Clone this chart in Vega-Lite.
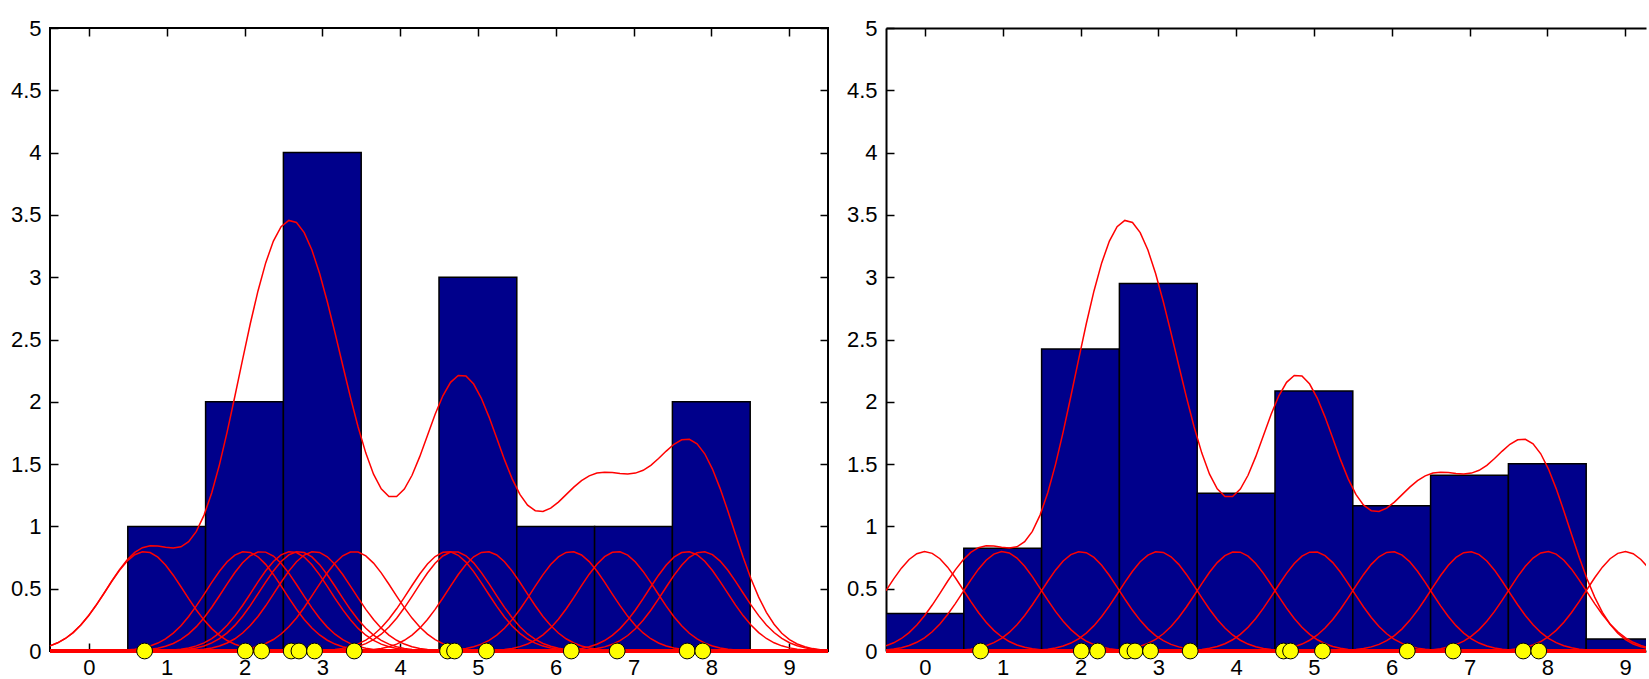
{
  "$schema": "https://vega.github.io/schema/vega-lite/v6.json",
  "padding": {"left": 9, "top": 16, "right": 0, "bottom": 0},
  "background": "white",
  "spacing": 58,
  "bounds": "flush",
  "config": {
    "view": {"stroke": "black", "strokeWidth": 2},
    "axis": {
      "grid": false,
      "domain": false,
      "labelFont": "Liberation Sans",
      "labelFontSize": 22,
      "labelColor": "black",
      "tickColor": "black",
      "tickWidth": 1.5,
      "tickSize": -8,
      "labelFlush": false,
      "labelOverlap": false,
      "title": null
    }
  },
  "datasets": {
    "pts": [
      {"id": 1, "x": 0.716},
      {"id": 2, "x": 2.01},
      {"id": 3, "x": 2.22},
      {"id": 4, "x": 2.6},
      {"id": 5, "x": 2.7},
      {"id": 6, "x": 2.9},
      {"id": 7, "x": 3.41},
      {"id": 8, "x": 4.61},
      {"id": 9, "x": 4.7},
      {"id": 10, "x": 5.11},
      {"id": 11, "x": 6.2},
      {"id": 12, "x": 6.79},
      {"id": 13, "x": 7.69},
      {"id": 14, "x": 7.89}
    ],
    "bins1": [
      {"lo": 0.5, "hi": 1.5, "h": 1},
      {"lo": 1.5, "hi": 2.5, "h": 2},
      {"lo": 2.5, "hi": 3.5, "h": 4},
      {"lo": 3.5, "hi": 4.5, "h": 0},
      {"lo": 4.5, "hi": 5.5, "h": 3},
      {"lo": 5.5, "hi": 6.5, "h": 1},
      {"lo": 6.5, "hi": 7.5, "h": 1},
      {"lo": 7.5, "hi": 8.5, "h": 2}
    ],
    "bins2": [
      {"lo": -0.5, "hi": 0.5, "h": 0.3},
      {"lo": 0.5, "hi": 1.5, "h": 0.824},
      {"lo": 1.5, "hi": 2.5, "h": 2.424},
      {"lo": 2.5, "hi": 3.5, "h": 2.95},
      {"lo": 3.5, "hi": 4.5, "h": 1.266},
      {"lo": 4.5, "hi": 5.5, "h": 2.087},
      {"lo": 5.5, "hi": 6.5, "h": 1.166},
      {"lo": 6.5, "hi": 7.5, "h": 1.41},
      {"lo": 7.5, "hi": 8.5, "h": 1.503},
      {"lo": 8.5, "hi": 9.5, "h": 0.096}
    ],
    "centers": [
      {"c": 0}, {"c": 1}, {"c": 2}, {"c": 3}, {"c": 4},
      {"c": 5}, {"c": 6}, {"c": 7}, {"c": 8}, {"c": 9}
    ]
  },
  "hconcat": [
    {
      "width": 778,
      "height": 623,
      "resolve": {"axis": {"x": "independent", "y": "independent"}},
      "layer": [
        {
          "data": {"name": "bins1"},
          "mark": {"type": "rect", "fill": "#00008B", "stroke": "black", "strokeWidth": 1.5},
          "encoding": {
            "x": {"field": "lo", "type": "quantitative", "scale": {"domain": [-0.5, 9.5], "nice": false, "zero": false},
                  "axis": {"orient": "bottom", "values": [0,1,2,3,4,5,6,7,8,9], "format": "d", "labelPadding": 14}},
            "x2": {"field": "hi"},
            "y": {"field": "h", "type": "quantitative", "scale": {"domain": [0, 5], "nice": false},
                  "axis": {"orient": "left", "values": [0,0.5,1,1.5,2,2.5,3,3.5,4,4.5,5], "format": "~g", "labelPadding": 17}},
            "y2": {"datum": 0}
          }
        },
        {
          "data": {"name": "pts"},
          "transform": [{"density": "x", "groupby": ["id"], "bandwidth": 0.5, "extent": [-0.5, 9.5], "counts": true, "steps": 101, "as": ["v", "d"]}],
          "mark": {"type": "line", "color": "#FF0000", "strokeWidth": 1.5},
          "encoding": {
            "x": {"field": "v", "type": "quantitative", "scale": {"domain": [-0.5, 9.5], "nice": false, "zero": false},
                  "axis": {"orient": "top", "values": [0,1,2,3,4,5,6,7,8,9], "labels": false}},
            "y": {"field": "d", "type": "quantitative", "scale": {"domain": [0, 5], "nice": false},
                  "axis": {"orient": "right", "values": [0,0.5,1,1.5,2,2.5,3,3.5,4,4.5,5], "labels": false}},
            "detail": {"field": "id", "type": "nominal"}
          }
        },
        {
          "data": {"name": "pts"},
          "transform": [{"density": "x", "bandwidth": 0.5, "extent": [-0.5, 9.5], "counts": true, "steps": 101, "as": ["v", "d"]}],
          "mark": {"type": "line", "color": "#FF0000", "strokeWidth": 1.5},
          "encoding": {
            "x": {"field": "v", "type": "quantitative", "axis": null},
            "y": {"field": "d", "type": "quantitative", "axis": null}
          }
        },
        {
          "data": {"values": [{}]},
          "mark": {"type": "rule", "color": "#FF0000", "strokeWidth": 4},
          "encoding": {"y": {"datum": 0, "axis": null}}
        },
        {
          "data": {"name": "pts"},
          "mark": {"type": "circle", "fill": "#FFFF00", "stroke": "black", "strokeWidth": 1, "size": 250, "opacity": 1},
          "encoding": {
            "x": {"field": "x", "type": "quantitative", "axis": null},
            "y": {"datum": 0, "axis": null}
          }
        }
      ]
    },
    {
      "width": 760,
      "height": 623,
      "view": {"stroke": null},
      "resolve": {"axis": {"x": "independent", "y": "independent"}},
      "layer": [
        {
          "data": {"name": "bins2"},
          "mark": {"type": "rect", "fill": "#00008B", "stroke": "black", "strokeWidth": 1.5, "clip": true},
          "encoding": {
            "x": {"field": "lo", "type": "quantitative", "scale": {"domain": [-0.5, 9.2686], "nice": false, "zero": false},
                  "axis": {"orient": "bottom", "values": [0,1,2,3,4,5,6,7,8,9], "format": "d", "labelPadding": 14, "domain": true, "domainColor": "black", "domainWidth": 2}},
            "x2": {"field": "hi"},
            "y": {"field": "h", "type": "quantitative", "scale": {"domain": [0, 5], "nice": false},
                  "axis": {"orient": "left", "values": [0,0.5,1,1.5,2,2.5,3,3.5,4,4.5,5], "format": "~g", "labelPadding": 17, "domain": true, "domainColor": "black", "domainWidth": 2}},
            "y2": {"datum": 0}
          }
        },
        {
          "data": {"name": "centers"},
          "transform": [{"density": "c", "groupby": ["c"], "bandwidth": 0.5, "extent": [-0.5, 9.5], "counts": true, "steps": 101, "as": ["v", "d"]}],
          "mark": {"type": "line", "color": "#FF0000", "strokeWidth": 1.5, "clip": true},
          "encoding": {
            "x": {"field": "v", "type": "quantitative", "scale": {"domain": [-0.5, 9.2686], "nice": false, "zero": false},
                  "axis": {"orient": "top", "values": [0,1,2,3,4,5,6,7,8,9], "labels": false, "domain": true, "domainColor": "black", "domainWidth": 2}},
            "y": {"field": "d", "type": "quantitative", "scale": {"domain": [0, 5], "nice": false}, "axis": null},
            "detail": {"field": "c", "type": "nominal"}
          }
        },
        {
          "data": {"name": "pts"},
          "transform": [{"density": "x", "bandwidth": 0.5, "extent": [-0.5, 9.5], "counts": true, "steps": 101, "as": ["v", "d"]}],
          "mark": {"type": "line", "color": "#FF0000", "strokeWidth": 1.5, "clip": true},
          "encoding": {
            "x": {"field": "v", "type": "quantitative", "axis": null},
            "y": {"field": "d", "type": "quantitative", "axis": null}
          }
        },
        {
          "data": {"values": [{}]},
          "mark": {"type": "rule", "color": "#FF0000", "strokeWidth": 4},
          "encoding": {"y": {"datum": 0, "axis": null}}
        },
        {
          "data": {"name": "pts"},
          "mark": {"type": "circle", "fill": "#FFFF00", "stroke": "black", "strokeWidth": 1, "size": 250, "opacity": 1},
          "encoding": {
            "x": {"field": "x", "type": "quantitative", "axis": null},
            "y": {"datum": 0, "axis": null}
          }
        }
      ]
    }
  ]
}
